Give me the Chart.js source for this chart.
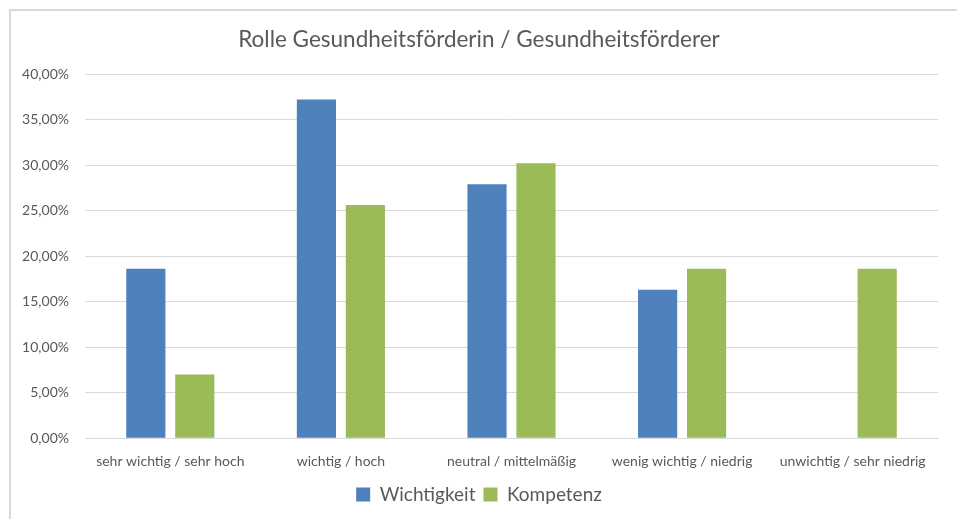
<!DOCTYPE html>
<html>
<head>
<meta charset="utf-8">
<script src="https://cdn.jsdelivr.net/npm/chart.js@4"></script>
<style>
    html, body { margin: 0; padding: 0; background: #fff; }
    #wrap { position: relative; width: 957px; height: 519px; overflow: hidden; }
    #frame {
        position: absolute; left: 9px; top: 9px; right: -5px; bottom: -5px;
        border-left: 2px solid #d9d9d9; border-top: 2px solid #d9d9d9;
    }
    canvas { position: absolute; left: 10px; top: 0; }
</style>
</head>
<body>
<div id="wrap">
    <div id="frame"></div>
    <canvas id="chart" width="947" height="519"></canvas>
</div>
<script>
// categories and values (percent)
const categories = [
    'sehr wichtig / sehr hoch',
    'wichtig / hoch',
    'neutral / mittelmäßig',
    'wenig wichtig / niedrig',
    'unwichtig / sehr niedrig'
];
const wichtigkeit = [18.6, 37.2, 27.9, 16.3, 0];
const kompetenz = [7.0, 25.6, 30.2, 18.6, 18.6];

const titleText = 'Rolle Gesundheitsförderin / Gesundheitsförderer';
const textColor = '#595959';
const gridColor = '#d9d9d9';
const fontFamily = 'Lato, "Open Sans", sans-serif';

const fmt = v => v.toFixed(2).replace('.', ',') + '%';

const ctx = document.getElementById('chart').getContext('2d');
new Chart(ctx, {
    type: 'bar',
    data: {
        labels: categories,
        datasets: [
            { label: 'Wichtigkeit', data: wichtigkeit, backgroundColor: '#4f81bd' },
            { label: 'Kompetenz', data: kompetenz, backgroundColor: '#9bbb59' }
        ]
    },
    options: {
        responsive: false,
        animation: false,
        categoryPercentage: 0.574,
        barPercentage: 0.8,
        layout: { padding: { left: 10, right: 19, top: 0, bottom: 5 } },
        plugins: {
            title: {
                display: true,
                text: titleText,
                color: textColor,
                font: { family: fontFamily, size: 22.5, weight: 'normal' },
                padding: { top: 26, bottom: 21 }
            },
            legend: {
                position: 'bottom',
                labels: {
                    color: textColor,
                    font: { family: fontFamily, size: 19 },
                    boxWidth: 14,
                    boxHeight: 14,
                    padding: 8
                }
            },
            tooltip: { enabled: false }
        },
        scales: {
            x: {
                grid: { display: false },
                border: { display: true, color: gridColor },
                ticks: {
                    color: textColor,
                    font: { family: fontFamily, size: 14 },
                    maxRotation: 0,
                    padding: 7
                }
            },
            y: {
                min: 0,
                max: 40,
                grid: { color: gridColor, drawTicks: false },
                border: { display: false },
                afterFit: scale => { scale.width = 65; },
                ticks: {
                    stepSize: 5,
                    color: textColor,
                    font: { family: fontFamily, size: 14 },
                    padding: 16,
                    callback: v => fmt(v)
                }
            }
        }
    }
});
</script>
</body>
</html>
